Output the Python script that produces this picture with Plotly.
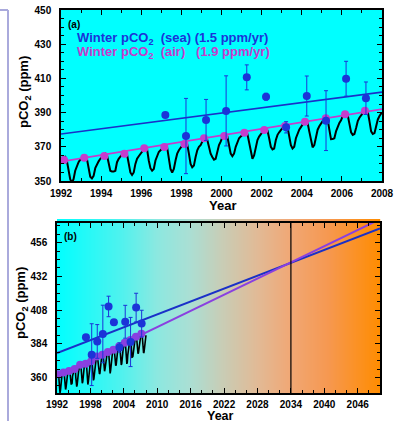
import plotly.graph_objects as go

# ---------------- data ----------------
# Monthly atmospheric pCO2 (ppm), Jan..Dec for each year 1992-2007, then Jan 2008
atm_years = list(range(1992, 2008))
atm_monthly = [
    [363.5, 364.0, 364.2, 362.0, 355.0, 351.0, 349.0, 351.0, 356.0, 359.0, 361.0, 362.5],  # 1992
    [363.0, 364.0, 364.5, 363.0, 357.0, 352.5, 351.5, 353.0, 357.5, 360.0, 361.5, 363.0],  # 1993
    [364.0, 365.0, 366.0, 365.0, 360.0, 356.0, 355.5, 355.5, 356.0, 361.0, 363.0, 364.5],  # 1994
    [365.5, 366.0, 366.5, 365.5, 360.0, 355.0, 353.5, 355.0, 360.0, 363.0, 364.5, 366.0],  # 1995
    [367.5, 368.5, 369.5, 368.5, 362.0, 357.5, 356.0, 357.0, 362.0, 365.0, 367.0, 368.0],  # 1996
    [369.0, 370.0, 370.5, 369.5, 363.0, 357.0, 355.0, 357.0, 362.0, 366.0, 368.0, 369.5],  # 1997
    [371.0, 372.0, 372.5, 371.5, 366.0, 360.0, 358.0, 359.0, 364.0, 368.0, 370.0, 371.0],  # 1998
    [373.0, 374.5, 375.0, 374.0, 370.0, 366.0, 364.0, 362.5, 363.0, 368.0, 371.0, 373.0],  # 1999
    [375.5, 376.5, 377.0, 376.0, 371.0, 366.0, 364.5, 366.0, 370.0, 373.0, 375.0, 376.0],  # 2000
    [377.0, 378.0, 378.5, 377.5, 372.0, 366.0, 363.0, 365.0, 370.0, 374.0, 376.0, 377.5],  # 2001
    [379.0, 380.0, 380.5, 379.5, 375.0, 370.0, 368.5, 369.0, 374.0, 377.0, 378.5, 380.0],  # 2002
    [381.0, 382.0, 382.5, 381.5, 377.0, 371.0, 369.0, 370.0, 375.0, 378.0, 380.0, 381.5],  # 2003
    [383.0, 384.5, 385.0, 384.0, 379.0, 373.0, 369.7, 371.0, 376.0, 380.0, 382.0, 383.5],  # 2004
    [385.5, 386.5, 387.0, 386.0, 380.0, 374.4, 374.5, 375.0, 379.0, 382.0, 384.0, 385.5],  # 2005
    [388.0, 389.0, 389.5, 388.5, 383.0, 378.5, 377.0, 377.5, 381.0, 385.0, 387.0, 388.5],  # 2006
    [390.0, 391.0, 391.5, 390.5, 385.0, 379.0, 377.5, 378.0, 382.0, 386.0, 388.0, 389.5],  # 2007
]
atm_last_year = 2008
atm_last_value = 390.0

# Winter air pCO2 (magenta/purple points)
air_years = [1992.15, 1993.16, 1994.16, 1995.16, 1996.15, 1997.15, 1998.15, 1999.13,
             2000.14, 2001.14, 2002.13, 2003.17, 2004.16, 2005.20, 2006.16, 2007.15]
air_winter = [362.3, 363.6, 364.6, 366.0, 369.1, 369.9, 371.6, 375.0,
              376.3, 378.2, 379.8, 382.2, 384.7, 386.7, 389.0, 391.1]

# Winter sea pCO2 (blue points) with error bars
sea_years = [1997.20, 1998.23, 1999.23, 2000.23, 2001.26, 2002.22, 2003.22,
             2004.25, 2005.21, 2006.21, 2007.20]
sea_winter = [388.6, 376.3, 385.7, 391.0, 410.6, 399.3, 381.4, 399.7, 385.3, 409.8, 398.4]
sea_err = [0.8, 22.0, 12.0, 20.5, 7.3, 2.0, 3.3, 11.7, 17.5, 10.2, 9.5]

# Linear trends (end points)
trend_years = [1992, 2050]
sea_trend = [377.5, 466.2]   # 1.5 ppm/yr
air_trend = [361.3, 472.7]   # 1.9 ppm/yr
crossing_year = 2034

# Tick values
a_xticks = [1992, 1994, 1996, 1998, 2000, 2002, 2004, 2006, 2008]
a_yticks = [350, 370, 390, 410, 430, 450]
b_xticks = [1992, 1998, 2004, 2010, 2016, 2022, 2028, 2034, 2040, 2046]
b_yticks = [360, 384, 408, 432, 456]

# ---------------- derived ----------------
atm_t = [y + (m + 0.5) / 12 for y in atm_years for m in range(12)] + [atm_last_year + 0.04]
atm_v = [v for row in atm_monthly for v in row] + [atm_last_value]

W, H = 401, 421
def px(x): return x / W
def py(y): return 1 - y / H

BLUE = '#1b34d8'
BLUE_LINE = '#1a30c8'
MAG = '#c63ccc'
PURP = '#8a40e0'
FONT = 'Liberation Sans'

fig = go.Figure()

# ---- panel (a)
fig.add_trace(go.Scatter(x=atm_t, y=atm_v, mode='lines', line=dict(color='black', width=2),
                         xaxis='x', yaxis='y', showlegend=False))
fig.add_trace(go.Scatter(x=trend_years, y=sea_trend, mode='lines', line=dict(color=BLUE_LINE, width=1.6),
                         xaxis='x', yaxis='y', showlegend=False))
fig.add_trace(go.Scatter(x=trend_years, y=air_trend, mode='lines', line=dict(color=MAG, width=1.6),
                         xaxis='x', yaxis='y', showlegend=False))
fig.add_trace(go.Scatter(x=air_years, y=air_winter, mode='markers', marker=dict(color=MAG, size=8),
                         xaxis='x', yaxis='y', showlegend=False, cliponaxis=False))
fig.add_trace(go.Scatter(x=sea_years, y=sea_winter, mode='markers', marker=dict(color=BLUE, size=8),
                         error_y=dict(type='data', array=sea_err, color=BLUE, thickness=1, width=2),
                         xaxis='x', yaxis='y', showlegend=False))

# ---- panel (b)
fig.add_trace(go.Scatter(x=atm_t, y=atm_v, mode='lines', line=dict(color='black', width=1.6),
                         xaxis='x2', yaxis='y2', showlegend=False))
fig.add_trace(go.Scatter(x=trend_years, y=sea_trend, mode='lines', line=dict(color=BLUE_LINE, width=2),
                         xaxis='x2', yaxis='y2', showlegend=False))
fig.add_trace(go.Scatter(x=trend_years, y=air_trend, mode='lines', line=dict(color=PURP, width=2),
                         xaxis='x2', yaxis='y2', showlegend=False))
fig.add_trace(go.Scatter(x=air_years, y=air_winter, mode='markers', marker=dict(color=PURP, size=8),
                         xaxis='x2', yaxis='y2', showlegend=False))
fig.add_trace(go.Scatter(x=sea_years, y=sea_winter, mode='markers', marker=dict(color=BLUE, size=8),
                         error_y=dict(type='data', array=sea_err, color=BLUE, thickness=1, width=2),
                         xaxis='x2', yaxis='y2', showlegend=False))
fig.add_trace(go.Scatter(x=[crossing_year, crossing_year], y=[348, 471], mode='lines',
                         line=dict(color='black', width=1.2), xaxis='x2', yaxis='y2', showlegend=False))

tickfont = dict(family=FONT, size=10, color='black')
titlefont = dict(family=FONT, size=13, color='black')

def B(s): return '<b>%s</b>' % s

def axis(**kw):
    base = dict(showline=True, linecolor='black', linewidth=1.5, mirror='ticks', ticks='inside',
                ticklen=5, tickwidth=1.2, tickcolor='black', showgrid=False, zeroline=False,
                tickfont=tickfont, automargin=False, fixedrange=True)
    base.update(kw)
    return base

fig.update_layout(
    width=W, height=H, margin=dict(l=0, r=0, t=0, b=0, pad=0),
    paper_bgcolor='white', plot_bgcolor='rgba(0,0,0,0)',
    xaxis=axis(domain=[px(61), px(382)], range=[1992, 2008], tickvals=a_xticks,
               ticktext=[B(v) for v in a_xticks], anchor='y', ticklabelstandoff=2,
               minor=dict(dtick=1, tick0=1992, ticklen=3, ticks='inside', tickcolor='black')),
    yaxis=axis(domain=[py(181), py(10)], range=[350, 450], tickvals=a_yticks,
               ticktext=[B(v) for v in a_yticks], anchor='x', ticklabelstandoff=6,
               minor=dict(dtick=5, tick0=350, ticklen=3, ticks='inside', tickcolor='black')),
    xaxis2=axis(domain=[px(57), px(380)], range=[1992, 2050], tickvals=b_xticks,
                ticktext=[B(v) for v in b_xticks], anchor='y2', ticklabelstandoff=1,
                minor=dict(dtick=2, tick0=1992, ticklen=3, ticks='inside', tickcolor='black')),
    yaxis2=axis(domain=[py(393), py(223)], range=[349, 470], tickvals=b_yticks,
                ticktext=[B(v) for v in b_yticks], anchor='x2', ticklabelstandoff=6,
                minor=dict(dtick=6, tick0=348, ticklen=3, ticks='inside', tickcolor='black')),
)

# cyan background of panel (a), slightly overhanging the top
fig.add_shape(type='rect', xref='paper', yref='paper', x0=px(61), x1=px(383), y0=py(181), y1=py(8),
              fillcolor='rgb(0,255,255)', line=dict(width=0), layer='below')

# gradient background of panel (b): cyan -> teal -> beige -> orange
stops = [(0.0, (0, 255, 255)), (0.2, (80, 242, 238)), (0.31, (140, 232, 224)),
         (0.41, (170, 223, 212)), (0.51, (200, 205, 182)), (0.62, (225, 186, 150)),
         (0.72, (240, 168, 118)), (0.84, (246, 152, 80)), (1.0, (255, 140, 0))]
def grad_color(f):
    for (f0, c0), (f1, c1) in zip(stops[:-1], stops[1:]):
        if f <= f1:
            t = (f - f0) / (f1 - f0)
            return 'rgb(%d,%d,%d)' % tuple(round(a + (b - a) * t) for a, b in zip(c0, c1))
    return 'rgb(255,140,0)'
x_left, x_right = 57, 380
n_strips = x_right - x_left
for i in range(n_strips):
    f = (i + 0.5) / n_strips
    fig.add_shape(type='rect', xref='paper', yref='paper', x0=px(x_left + i), x1=px(x_left + i + 1.2),
                  y0=py(393), y1=py(219), fillcolor=grad_color(f), line=dict(width=0), layer='below')

# decorative frame on the left
fig.add_shape(type='line', xref='paper', yref='paper', x0=px(0), x1=px(8), y0=py(10), y1=py(10),
              line=dict(color='rgb(170,170,220)', width=2))
fig.add_shape(type='line', xref='paper', yref='paper', x0=px(8), x1=px(8), y0=py(10), y1=py(421),
              line=dict(color='rgb(170,170,220)', width=2))

ann = [
    dict(text=B('(a)'), x=px(66), y=py(25), xanchor='left', font=dict(family=FONT, size=10, color='black')),
    dict(text=B('(b)'), x=px(62), y=py(236), xanchor='left', font=dict(family=FONT, size=10, color='black')),
    dict(text=B('Winter pCO<sub>2</sub>  (sea) (1.5 ppm/yr)'), x=px(75), y=py(38.5), xanchor='left',
         font=dict(family=FONT, size=13, color=BLUE)),
    dict(text=B('Winter pCO<sub>2</sub>  (air)\u00a0\u00a0\u00a0(1.9 ppm/yr)'), x=px(75), y=py(52.5), xanchor='left',
         font=dict(family=FONT, size=13, color=MAG)),
    # axis titles
    dict(text=B('Year'), x=px(222), y=py(205), xanchor='center', font=titlefont),
    dict(text=B('Year'), x=px(220), y=py(416), xanchor='center', font=dict(family=FONT, size=12.5, color='black')),
    dict(text=B('pCO<sub>2</sub> (ppm)'), x=px(24), y=py(92), xanchor='center', textangle=-90, font=titlefont),
    dict(text=B('pCO<sub>2</sub> (ppm)'), x=px(21), y=py(303), xanchor='center', textangle=-90, font=titlefont),
]
for a in ann:
    fig.add_annotation(xref='paper', yref='paper', yanchor='middle', showarrow=False, **a)

fig.write_html('out.html', config={'displayModeBar': False},
               post_script=["document.body.style.margin='0px';"])
